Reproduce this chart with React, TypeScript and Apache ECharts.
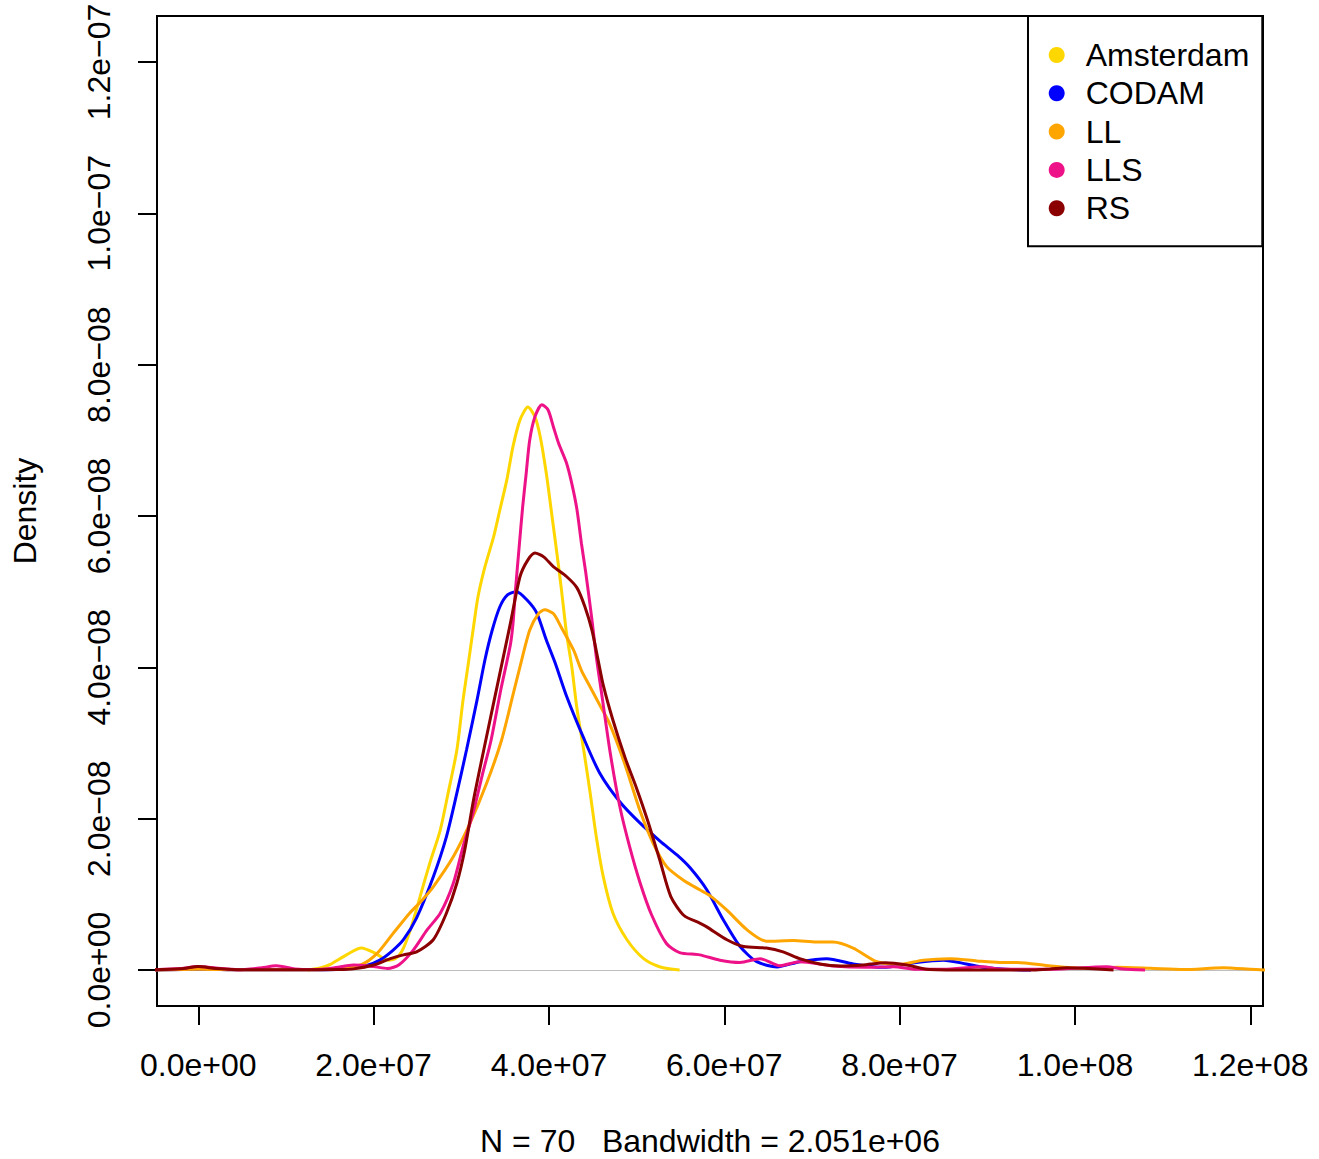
import React, { useEffect, useRef } from "react";
import * as echarts from "echarts";

const FONT = "'Liberation Sans', Arial, Helvetica, sans-serif";

const seriesNames = ["Amsterdam", "CODAM", "LL", "LLS", "RS"];
const seriesColors = ["#FFD700", "#0000FF", "#FFA500", "#EE1289", "#8B0000"];

const xTicks = [0, 2e7, 4e7, 6e7, 8e7, 1e8, 1.2e8];
const xTickLabels = ["0.0e+00", "2.0e+07", "4.0e+07", "6.0e+07", "8.0e+07", "1.0e+08", "1.2e+08"];
const yTicks = [0, 2e-8, 4e-8, 6e-8, 8e-8, 1e-7, 1.2e-7];
const yTickLabels = ["0.0e+00", "2.0e\u221208", "4.0e\u221208", "6.0e\u221208", "8.0e\u221208", "1.0e\u221207", "1.2e\u221207"];

const xLimits = [-4.711e6, 121.45e6];
const yLimits = [-4.757e-9, 126.07e-9];

const yLabel = "Density";
const xLabel = "N = 70   Bandwidth = 2.051e+06";

const amsterdam = [
  [12.5e6, 0], [14.0e6, 0.3e-9], [15.0e6, 0.7e-9], [16.9e6, 2.0e-9], [18.6e6, 2.9e-9], [20.2e6, 2.2e-9],
  [21.6e6, 1.3e-9], [22.6e6, 1.6e-9], [23.4e6, 2.9e-9], [24.3e6, 5.7e-9], [25.3e6, 9.7e-9], [26.4e6, 14.1e-9],
  [27.6e6, 18.5e-9], [28.5e6, 23.4e-9], [29.5e6, 29.1e-9], [30.2e6, 35.7e-9], [30.8e6, 40.5e-9], [31.4e6, 45.4e-9],
  [31.9e6, 49.3e-9], [32.7e6, 53.3e-9], [33.7e6, 57.3e-9], [34.4e6, 60.8e-9], [35.2e6, 64.8e-9], [35.9e6, 69.2e-9],
  [36.7e6, 72.7e-9], [37.6e6, 74.4e-9], [38.4e6, 73.1e-9], [39.0e6, 70.5e-9], [39.7e6, 65.6e-9], [40.3e6, 60.4e-9],
  [40.9e6, 55.1e-9], [41.4e6, 50.5e-9], [42.0e6, 44.5e-9], [42.6e6, 40.1e-9], [43.2e6, 34.5e-9], [44.0e6, 28.8e-9],
  [44.7e6, 23.4e-9], [45.4e6, 17.6e-9], [46.2e6, 12.3e-9], [47.3e6, 7.5e-9], [48.9e6, 4.0e-9], [50.8e6, 1.5e-9],
  [52.7e6, 0.4e-9], [54.9e6, 0],
];

const codam = [
  [-5e6, 0], [0, 0.1e-9], [5e6, 0.02e-9], [12e6, 0.02e-9], [16e6, 0.1e-9], [19.2e6, 0.6e-9], [20.7e6, 1.3e-9],
  [22.2e6, 2.6e-9], [23.4e6, 4.0e-9], [24.9e6, 6.9e-9], [26.8e6, 12.3e-9], [28.3e6, 17.6e-9], [29.5e6, 23.4e-9],
  [30.6e6, 29.1e-9], [31.8e6, 35.7e-9], [32.7e6, 41.0e-9], [33.5e6, 44.8e-9], [34.4e6, 48.0e-9], [35.3e6, 49.6e-9],
  [36.3e6, 50.0e-9], [37.5e6, 48.9e-9], [38.6e6, 47.2e-9], [39.7e6, 43.6e-9], [40.7e6, 40.6e-9], [42.0e6, 36.2e-9],
  [43.9e6, 30.8e-9], [45.8e6, 26.0e-9], [48.1e6, 22.2e-9], [50.4e6, 19.4e-9], [52.7e6, 17.0e-9], [54.6e6, 15.2e-9],
  [56.1e6, 13.5e-9], [58.0e6, 10.6e-9], [59.9e6, 6.6e-9], [61.8e6, 3.1e-9], [63.7e6, 1.1e-9], [66.0e6, 0.4e-9],
  [68.6e6, 1.1e-9], [71.7e6, 1.5e-9], [74.7e6, 0.8e-9], [78.1e6, 0.35e-9], [81.9e6, 1.0e-9], [85.0e6, 1.3e-9],
  [87.6e6, 0.8e-9], [89.5e6, 0.35e-9], [92e6, 0.1e-9], [95e6, 0],
];

const ll = [
  [-5e6, 0], [0, 0.1e-9], [5e6, 0.02e-9], [12e6, 0.02e-9], [16.2e6, 0.15e-9], [18.6e6, 0.7e-9], [20.4e6, 2.2e-9],
  [22.2e6, 4.8e-9], [24.1e6, 7.5e-9], [25.5e6, 9.2e-9], [26.8e6, 11.0e-9], [29.1e6, 15.0e-9], [31.0e6, 19.4e-9],
  [32.9e6, 24.7e-9], [34.6e6, 30.4e-9], [35.9e6, 36.4e-9], [36.7e6, 40.1e-9], [37.8e6, 44.9e-9], [38.8e6, 47.1e-9],
  [39.5e6, 47.6e-9], [40.5e6, 47.1e-9], [41.4e6, 45.3e-9], [42.8e6, 42.3e-9], [43.7e6, 39.6e-9], [44.7e6, 37.4e-9],
  [45.8e6, 35.0e-9], [46.9e6, 32.6e-9], [48.6e6, 27.4e-9], [50.4e6, 21.0e-9], [51.9e6, 16.7e-9], [53.4e6, 13.7e-9],
  [55.3e6, 11.9e-9], [57.2e6, 10.6e-9], [58.4e6, 9.8e-9], [60.3e6, 7.9e-9], [62.6e6, 5.3e-9], [64.8e6, 3.8e-9],
  [67.9e6, 3.9e-9], [70.5e6, 3.7e-9], [72.4e6, 3.7e-9], [74.7e6, 2.9e-9], [77.4e6, 1.1e-9], [80.0e6, 0.75e-9],
  [82.7e6, 1.3e-9], [85.7e6, 1.5e-9], [88.8e6, 1.2e-9], [91.4e6, 1.0e-9], [93.4e6, 1.0e-9], [97.2e6, 0.53e-9],
  [101.0e6, 0.22e-9], [104.8e6, 0.36e-9], [108.6e6, 0.22e-9], [112.4e6, 0.05e-9], [116.9e6, 0.3e-9], [121.5e6, 0],
  [125e6, 0],
];

const lls = [
  [-6e6, 0], [-2e6, 0.2e-9], [0, 0.45e-9], [2e6, 0.25e-9], [4.5e6, 0.03e-9], [7e6, 0.25e-9], [8.9e6, 0.55e-9],
  [11e6, 0.15e-9], [13e6, 0.05e-9], [15.4e6, 0.25e-9], [17.7e6, 0.66e-9], [20.0e6, 0.45e-9], [21.6e6, 0.2e-9],
  [22.9e6, 0.7e-9], [24.5e6, 2.6e-9], [26.1e6, 5.3e-9], [27.6e6, 7.5e-9], [29.1e6, 11.5e-9], [30.2e6, 16.3e-9],
  [31.4e6, 21.0e-9], [32.4e6, 25.8e-9], [33.4e6, 30.4e-9], [34.5e6, 37.0e-9], [35.6e6, 43.0e-9], [35.9e6, 45.8e-9],
  [36.2e6, 50.5e-9], [36.6e6, 55.9e-9], [37.0e6, 61.2e-9], [37.4e6, 65.6e-9], [37.8e6, 70.0e-9], [38.4e6, 73.1e-9],
  [39.2e6, 74.7e-9], [39.9e6, 74.0e-9], [40.5e6, 71.8e-9], [41.1e6, 69.6e-9], [42.0e6, 67.0e-9], [42.6e6, 64.3e-9],
  [43.2e6, 60.8e-9], [43.7e6, 56.4e-9], [44.2e6, 52.5e-9], [44.9e6, 46.3e-9], [45.4e6, 41.4e-9], [46.0e6, 36.6e-9],
  [47.0e6, 28.6e-9], [48.1e6, 21.5e-9], [49.2e6, 16.3e-9], [50.4e6, 11.5e-9], [51.7e6, 7.3e-9], [53.4e6, 3.5e-9],
  [54.9e6, 2.3e-9], [57.2e6, 2.0e-9], [59.5e6, 1.3e-9], [61.8e6, 1.0e-9], [64.1e6, 1.5e-9], [66.3e6, 0.57e-9],
  [68.6e6, 1.1e-9], [72.4e6, 0.53e-9], [76.2e6, 0.35e-9], [79.3e6, 0.44e-9], [81.9e6, 0.1e-9], [85e6, 0.1e-9],
  [89.5e6, 0.44e-9], [91.4e6, 0.13e-9], [97.2e6, 0.1e-9], [103.6e6, 0.44e-9], [105.5e6, 0.13e-9], [108.0e6, 0],
];

const rs = [
  [-6e6, 0], [-2e6, 0.15e-9], [0, 0.45e-9], [2e6, 0.2e-9], [5e6, 0.02e-9], [12e6, 0.03e-9], [16e6, 0.05e-9],
  [17.7e6, 0.15e-9], [20.0e6, 0.66e-9], [21.9e6, 1.5e-9], [23.4e6, 2.0e-9], [24.9e6, 2.4e-9], [26.8e6, 4.0e-9],
  [28.3e6, 7.5e-9], [29.5e6, 11.5e-9], [30.4e6, 15.9e-9], [31.4e6, 22.5e-9], [32.8e6, 30.4e-9], [34.4e6, 39.2e-9],
  [35.6e6, 45.8e-9], [36.7e6, 52.0e-9], [37.6e6, 54.2e-9], [38.4e6, 55.1e-9], [39.4e6, 54.6e-9], [40.5e6, 53.3e-9],
  [42.0e6, 52.0e-9], [43.2e6, 50.5e-9], [44.1e6, 48.0e-9], [44.9e6, 44.9e-9], [45.6e6, 41.0e-9], [46.2e6, 37.6e-9],
  [47.3e6, 33.0e-9], [48.7e6, 28.0e-9], [50.0e6, 24.0e-9], [51.3e6, 19.6e-9], [52.7e6, 14.3e-9], [53.9e6, 9.7e-9],
  [55.4e6, 7.2e-9], [57.2e6, 6.2e-9], [58.0e6, 5.7e-9], [60.3e6, 4.0e-9], [62.2e6, 3.1e-9], [64.8e6, 2.9e-9],
  [66.7e6, 2.4e-9], [68.6e6, 1.5e-9], [70.9e6, 0.8e-9], [73.2e6, 0.53e-9], [75.8e6, 0.66e-9], [78.4e6, 0.97e-9],
  [80.8e6, 0.66e-9], [83.1e6, 0.1e-9], [87.6e6, 0], [95.3e6, 0], [97.2e6, 0.13e-9], [99.1e6, 0.3e-9],
  [101.0e6, 0.22e-9], [104.4e6, 0],
];

const seriesData = [amsterdam, codam, ll, lls, rs];

function lookupLabel(ticks: number[], labels: string[], v: number): string {
  for (let i = 0; i < ticks.length; i++) {
    const tol = Math.max(Math.abs(ticks[i]), 1e-30) * 1e-6 + 1e-30;
    if (Math.abs(v - ticks[i]) <= tol) return labels[i];
  }
  return "";
}

export default function App() {
  const ref = useRef<HTMLDivElement>(null);

  useEffect(() => {
    document.body.style.margin = "0";
    if (!ref.current) return;
    const chart = echarts.init(ref.current, null, { renderer: "svg" });

    const tickStyle = { color: "#000", width: 2 };
    const labelBase = { fontSize: 32, color: "#000", fontFamily: FONT };

    const series: any[] = seriesNames.map((name, i) => ({
      name,
      type: "line",
      data: seriesData[i],
      showSymbol: false,
      smooth: 0.25,
      clip: true,
      lineStyle: { color: seriesColors[i], width: 3 },
      itemStyle: { color: seriesColors[i] },
      z: 3 + i,
      ...(i === 0
        ? {
            markLine: {
              silent: true,
              symbol: ["none", "none"],
              label: { show: false },
              lineStyle: { color: "#BEBEBE", width: 1, type: "solid" },
              data: [{ yAxis: 0 }],
              z: 2,
            },
          }
        : {}),
    }));

    chart.setOption({
      animation: false,
      backgroundColor: "#ffffff",
      textStyle: { fontFamily: FONT },
      grid: {
        left: 157,
        top: 16,
        width: 1106,
        height: 990,
        show: true,
        borderColor: "#000",
        borderWidth: 2,
        backgroundColor: "transparent",
        containLabel: false,
      },
      xAxis: {
        type: "value",
        min: xLimits[0],
        max: xLimits[1],
        axisLine: { show: false, onZero: false },
        splitLine: { show: false },
        axisTick: { show: true, customValues: xTicks, length: 19, lineStyle: tickStyle },
        axisLabel: {
          ...labelBase,
          customValues: xTicks,
          margin: 43,
          formatter: (v: number) => lookupLabel(xTicks, xTickLabels, v),
        },
      },
      yAxis: {
        type: "value",
        min: yLimits[0],
        max: yLimits[1],
        axisLine: { show: false, onZero: false },
        splitLine: { show: false },
        axisTick: { show: true, customValues: yTicks, length: 19, lineStyle: tickStyle },
        axisLabel: {
          ...labelBase,
          customValues: yTicks,
          rotate: 90,
          margin: 42,
          formatter: (v: number) => lookupLabel(yTicks, yTickLabels, v),
        },
      },
      legend: {
        show: true,
        orient: "vertical",
        left: 1028,
        top: 16,
        icon: "circle",
        itemWidth: 16,
        itemHeight: 16,
        itemGap: 6.3,
        padding: [23, 13, 22, 20.7],
        borderColor: "#000",
        borderWidth: 2,
        borderRadius: 0,
        backgroundColor: "#fff",
        selectedMode: false,
        itemStyle: { borderWidth: 0 },
        textStyle: { ...labelBase, lineHeight: 32, padding: [0, 0, 0, 16] },
        data: seriesNames,
      },
      graphic: [
        {
          type: "text",
          x: 25,
          y: 511,
          rotation: Math.PI / 2,
          style: { text: yLabel, fontSize: 32, fontFamily: FONT, fill: "#000", align: "center", verticalAlign: "middle" },
        },
        {
          type: "text",
          x: 710,
          y: 1141,
          style: { text: xLabel, fontSize: 32, fontFamily: FONT, fill: "#000", align: "center", verticalAlign: "middle" },
        },
      ],
      series,
    });

    return () => {
      chart.dispose();
    };
  }, []);

  return <div ref={ref} style={{ width: 1319, height: 1159 }} />;
}
